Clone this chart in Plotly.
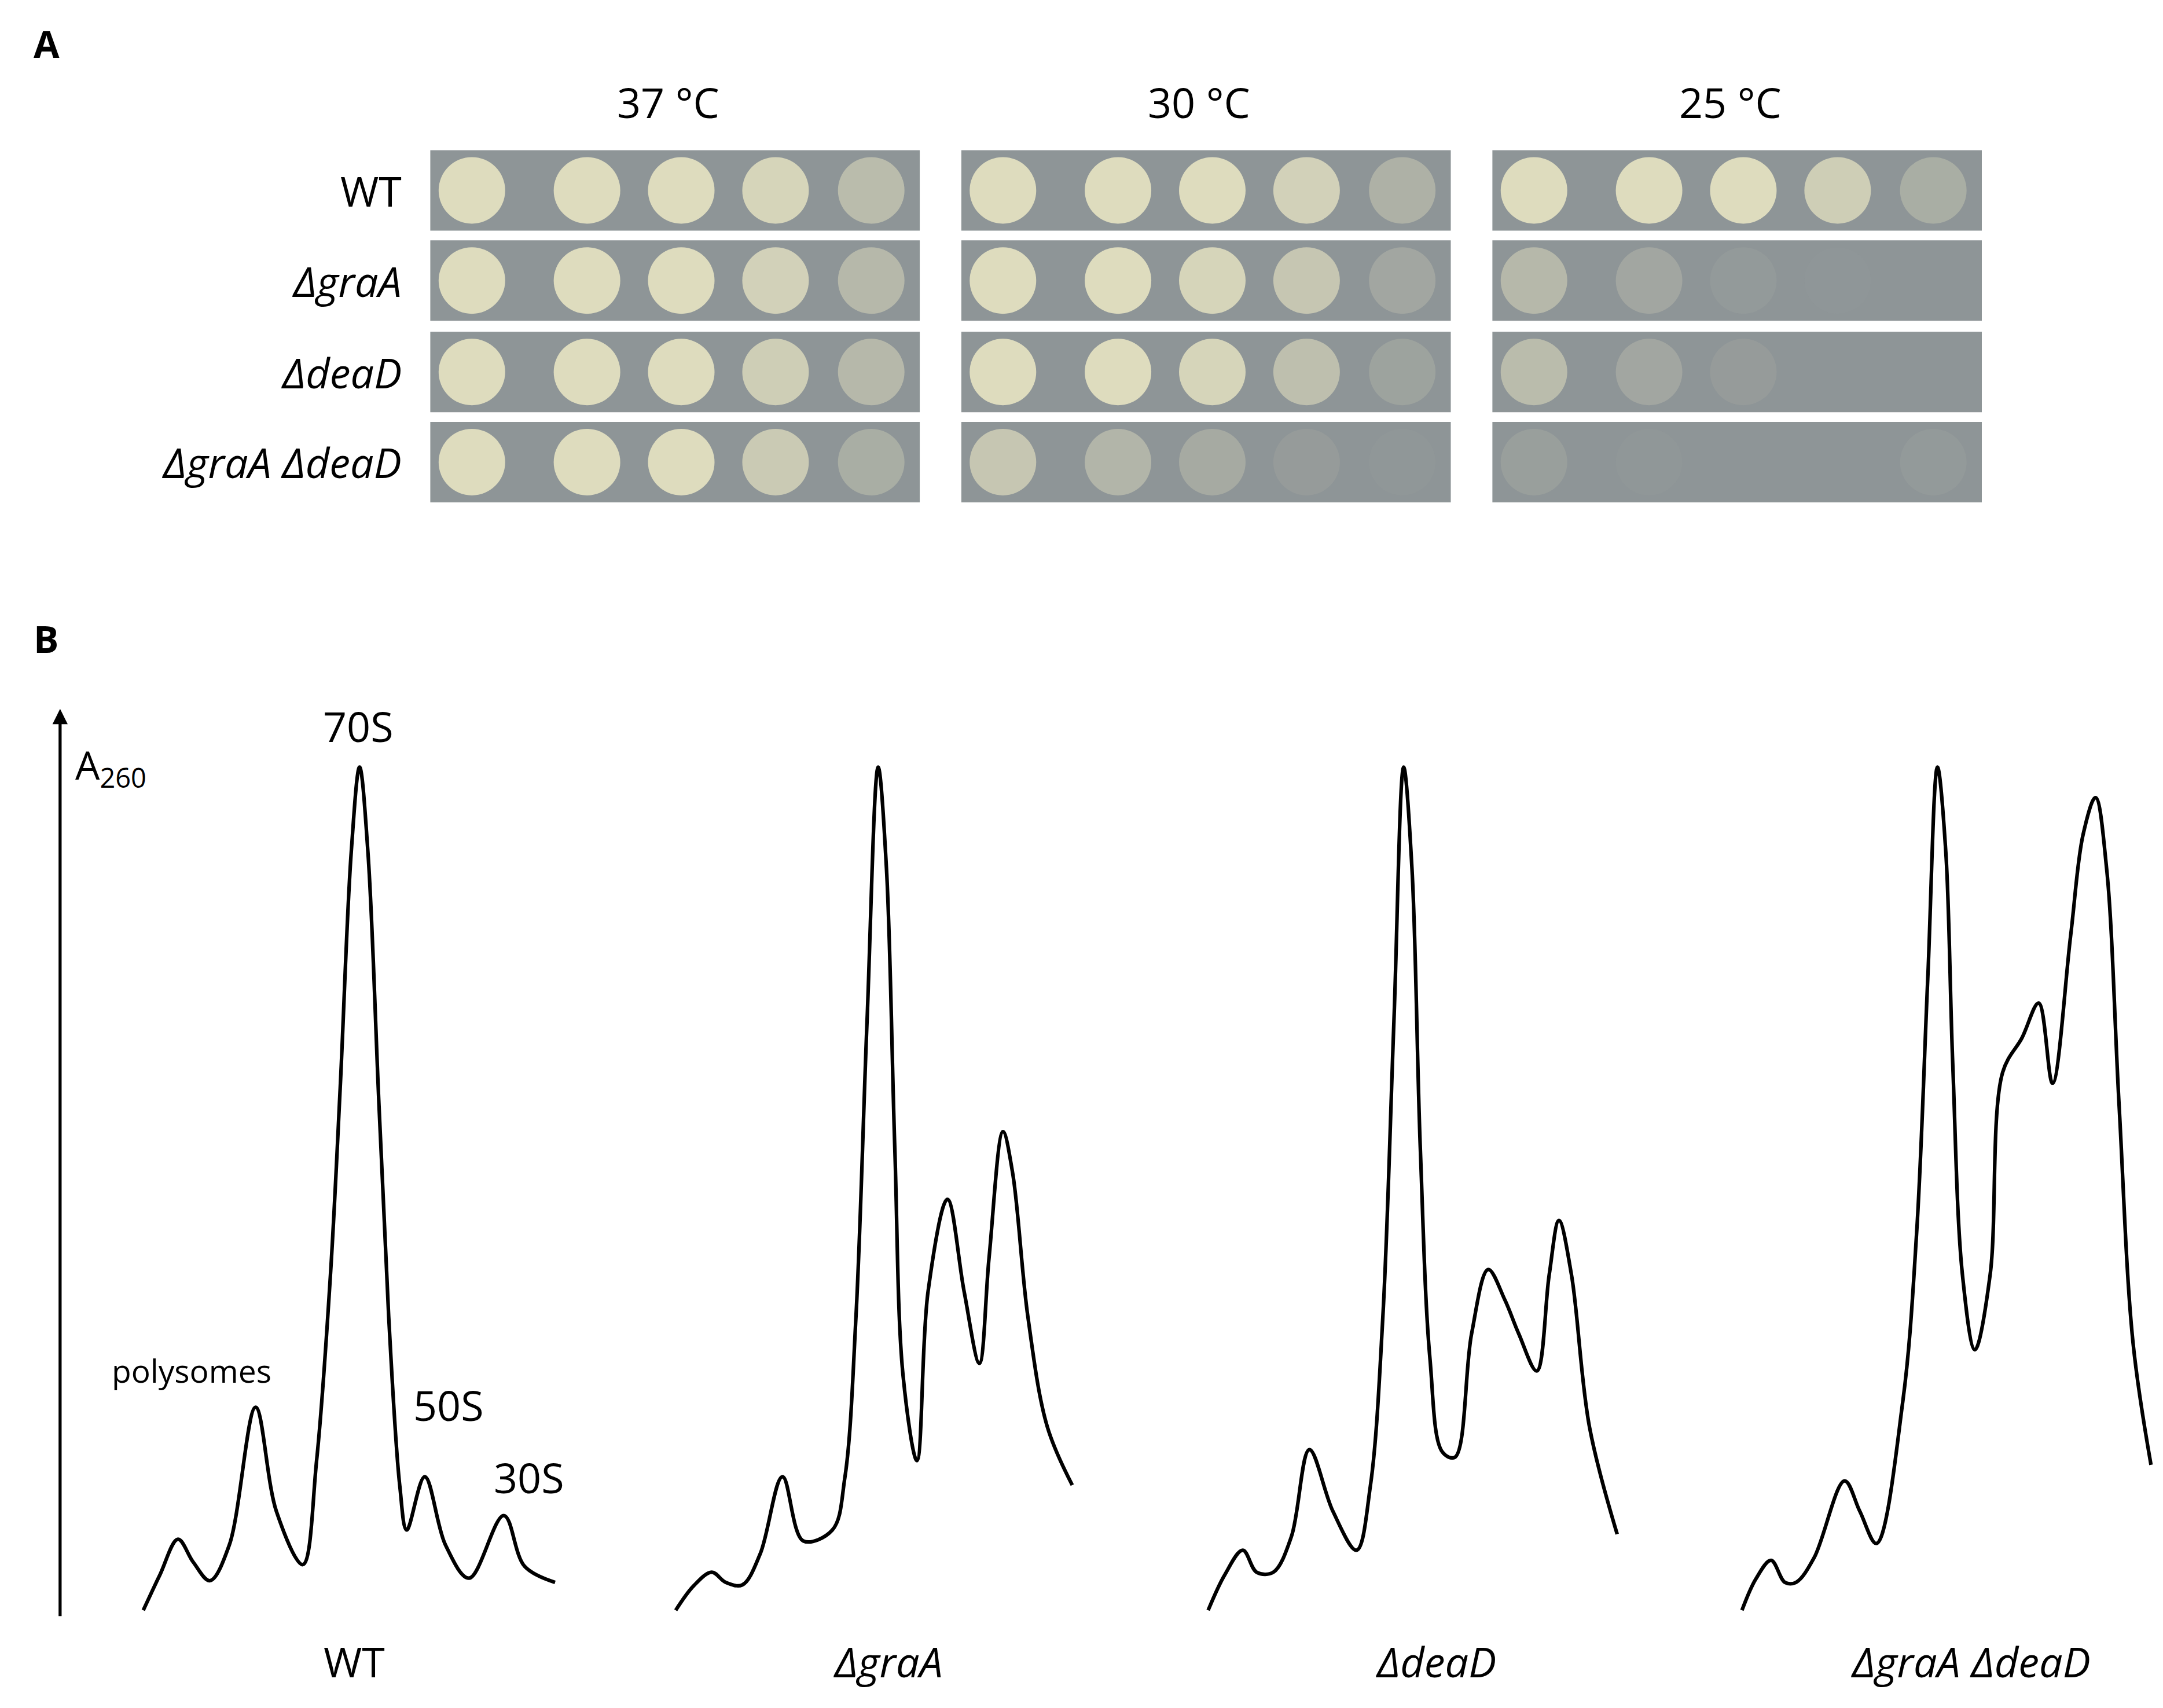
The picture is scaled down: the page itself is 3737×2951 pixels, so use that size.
import plotly.graph_objects as go

W, H = 3737, 2951
S = W / 1560.0  # display-px -> screen-px

# ---------------- Panel A data ----------------
temps = ["37 °C", "30 °C", "25 °C"]
strains = ["WT", "<i>ΔgraA</i>", "<i>ΔdeaD</i>", "<i>ΔgraA ΔdeaD</i>"]
# spot growth intensity (0..1) per temperature, strain, dilution
growth = {
    "37 °C": [[1, 1, 1, 0.9, 0.55], [1, 1, 1, 0.85, 0.5], [1, 1, 1, 0.8, 0.5], [1, 1, 1, 0.75, 0.35]],
    "30 °C": [[1, 1, 1, 0.85, 0.4], [1, 1, 0.9, 0.7, 0.25], [1, 1, 0.9, 0.6, 0.2], [0.7, 0.45, 0.3, 0.1, 0.03]],
    "25 °C": [[1, 1, 1, 0.8, 0.35], [0.5, 0.25, 0.08, 0.02, 0], [0.55, 0.25, 0.1, 0.0, 0], [0.15, 0.03, 0, 0, 0.08]],
}

# ---------------- Panel B data ----------------
profile_names = ["WT", "<i>ΔgraA</i>", "<i>ΔdeaD</i>", "<i>ΔgraA ΔdeaD</i>"]
prof_x = [
    [0, 12, 25, 36, 48, 62, 81, 96, 115, 125, 135, 142, 150, 156, 162, 170, 177, 185, 190, 203, 218, 235, 260, 275, 297],
    [0, 13, 26, 36, 48, 61, 77, 92, 113, 122, 130, 138, 146, 152, 158, 164, 174, 182, 196, 208, 219, 226, 236, 243, 254, 268, 286],
    [0, 12, 25, 35, 47, 60, 73, 90, 107, 117, 126, 134, 141, 147, 153, 160, 169, 178, 190, 202, 214, 224, 237, 246, 253, 262, 275, 295],
    [0, 10, 21, 31, 39, 52, 74, 85, 97, 116, 126, 134, 141, 147, 152, 159, 168, 179, 188, 202, 214, 224, 237, 246, 255, 263, 272, 282, 295],
]
prof_y = [
    [0.3, 4.5, 8.7, 6.0, 3.8, 8.0, 24.3, 12.0, 5.7, 18, 40, 62, 90, 100, 90, 60, 35, 15, 9.8, 16.1, 8.0, 4.1, 11.5, 5.5, 3.6],
    [0.3, 3.2, 4.8, 3.6, 3.3, 7.0, 16.1, 8.5, 9.8, 16, 35, 70, 100, 88, 55, 28, 18.0, 38, 48.9, 38, 29.5, 42, 56.9, 52, 35, 22, 15.1],
    [0.3, 4.5, 7.4, 4.8, 4.8, 9.0, 19.3, 12.0, 7.4, 15, 35, 70, 100, 88, 55, 30, 19, 18.4, 33, 40.6, 37, 33, 28.6, 40, 46.4, 40, 22, 9.3],
    [0.3, 4.0, 6.2, 3.6, 3.6, 6.5, 15.6, 12.0, 8.2, 25, 45, 75, 100, 90, 65, 40, 31.1, 40, 63.9, 68, 72.1, 62.6, 80, 92, 96.4, 88, 60, 32, 17.5],
]
prof_x0 = [100, 484, 868, 1253]
BASE, SC = 1160, 6.1  # baseline (display px) and px per A260 unit

fig = go.Figure()

plate_x0 = [307, 690, 1073]
plate_w = 353
row_y0 = [105, 170, 236, 301]
row_h = 58
spot_dx = [30, 113, 181, 249, 318]

shapes = []
for ti, t in enumerate(temps):
    for si in range(4):
        shapes.append(dict(type="rect", xref="x", yref="y", x0=plate_x0[ti], x1=plate_x0[ti] + plate_w,
                           y0=row_y0[si], y1=row_y0[si] + row_h, fillcolor="#8e9597", line=dict(width=0), layer="below"))
        xs = [plate_x0[ti] + d for d in spot_dx]
        ys = [row_y0[si] + row_h / 2] * 5
        cols = [f"rgba(222,220,190,{g:.2f})" for g in growth[t][si]]
        fig.add_trace(go.Scatter(x=xs, y=ys, mode="markers", hoverinfo="skip",
                                 marker=dict(size=48 * S, color=cols, line=dict(width=0))))

for i in range(4):
    xs = [prof_x0[i] + v for v in prof_x[i]]
    ys = [BASE - v * SC for v in prof_y[i]]
    fig.add_trace(go.Scatter(x=xs, y=ys, mode="lines", line=dict(color="black", width=2.6 * S, shape="spline", smoothing=1.0),
                             hoverinfo="skip"))

F = "Open Sans"
ann = []
def txt(x, y, s, size, anchor="center", bold=False):
    ann.append(dict(x=x, y=y, xref="x", yref="y", text=f"<b>{s}</b>" if bold else s, showarrow=False,
                    xanchor=anchor, yanchor="middle", font=dict(family=F, size=size * S, color="black")))

txt(20, 28, "A", 27, "left", True)
txt(20, 457, "B", 27, "left", True)
for ti, t in enumerate(temps):
    txt(plate_x0[ti] + plate_w / 2 - 5, 70, t, 30)
for si, s in enumerate(strains):
    txt(287, row_y0[si] + row_h / 2, s, 30, "right")
txt(255, 520, "70S", 30)
txt(135, 985, "polysomes", 23)
txt(320, 1010, "50S", 30)
txt(378, 1062, "30S", 30)
ann.append(dict(x=50, y=550, xref="x", yref="y", text="A<sub>260</sub>", showarrow=False, xanchor="left",
                yanchor="middle", font=dict(family=F, size=28 * S, color="black")))
lx = [252, 637, 1032, 1418]
for i, n in enumerate(profile_names):
    txt(lx[i], 1195, n, 30)
# y-axis arrow
ann.append(dict(x=40, y=508, ax=40, ay=1163, xref="x", yref="y", axref="x", ayref="y", text="", showarrow=True,
                arrowhead=2, arrowsize=1, arrowwidth=2.2 * S, arrowcolor="black"))

fig.update_layout(width=W, height=H, margin=dict(l=0, r=0, t=0, b=0), showlegend=False,
                  plot_bgcolor="white", paper_bgcolor="white", shapes=shapes, annotations=ann,
                  xaxis=dict(range=[0, 1560], visible=False, domain=[0, 1]),
                  yaxis=dict(range=[1232, 0], visible=False, domain=[0, 1]))
fig.write_html("out.html")
